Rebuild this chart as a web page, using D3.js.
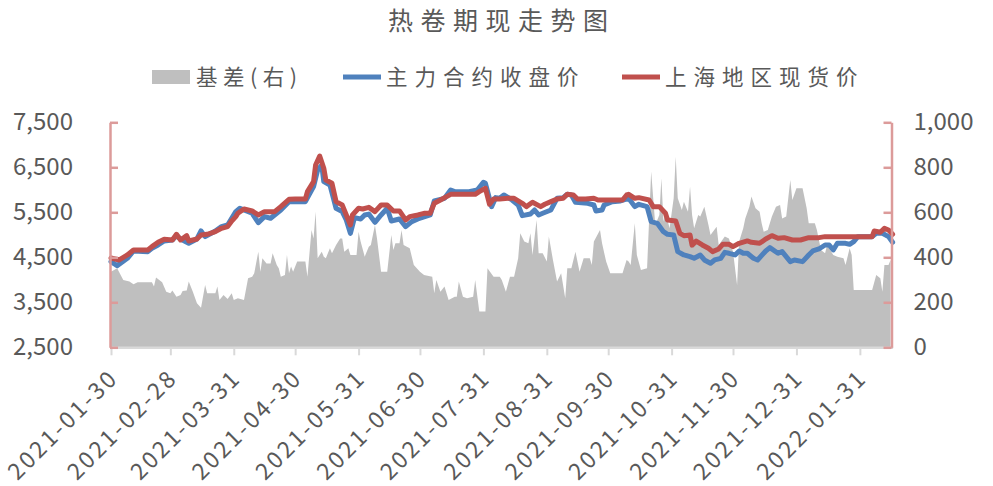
<!DOCTYPE html>
<html><head><meta charset="utf-8">
<script src="https://cdn.jsdelivr.net/npm/d3@7"></script>
<style>body{margin:0;background:#fff} svg{display:block}</style>
</head><body><svg id="c" width="993" height="486"></svg>
<script>
const chartTitle = "热卷期现走势图";
const seriesNames = ["基差(右)", "主力合约收盘价", "上海地区现货价"];
const leftTicks = [2500, 3500, 4500, 5500, 6500, 7500];
const rightTicks = [0, 200, 400, 600, 800, 1000];
const xTickDates = ["2021-01-30","2021-02-28","2021-03-31","2021-04-30","2021-05-31","2021-06-30","2021-07-31","2021-08-31","2021-09-30","2021-10-31","2021-11-30","2021-12-31","2022-01-31"];
const xDomain = ["2021-01-30", "2022-02-16"];

const spotDates = ["2021-01-30","2021-02-03","2021-02-07","2021-02-10","2021-02-17","2021-02-19","2021-02-22","2021-02-25","2021-03-01","2021-03-03",
"2021-03-05","2021-03-08","2021-03-09","2021-03-13","2021-03-15","2021-03-18","2021-03-22","2021-03-25","2021-03-28","2021-03-30",
"2021-04-01","2021-04-02","2021-04-05","2021-04-09","2021-04-12","2021-04-15","2021-04-20","2021-04-23","2021-04-27","2021-04-30",
"2021-05-05","2021-05-06","2021-05-09","2021-05-10","2021-05-12","2021-05-14","2021-05-15","2021-05-18","2021-05-20","2021-05-23",
"2021-05-24","2021-05-27","2021-05-28","2021-05-31","2021-06-02","2021-06-05","2021-06-08","2021-06-11","2021-06-14","2021-06-17",
"2021-06-20","2021-06-23","2021-06-25","2021-06-29","2021-07-02","2021-07-05","2021-07-07","2021-07-10","2021-07-13","2021-07-15",
"2021-07-20","2021-07-27","2021-07-29","2021-08-01","2021-08-03","2021-08-05","2021-08-08","2021-08-12","2021-08-15","2021-08-19",
"2021-08-21","2021-08-24","2021-08-28","2021-08-30","2021-09-02","2021-09-05","2021-09-08","2021-09-10","2021-09-13","2021-09-15",
"2021-09-19","2021-09-23","2021-09-25","2021-09-30","2021-10-07","2021-10-09","2021-10-10","2021-10-13","2021-10-15","2021-10-20",
"2021-10-22","2021-10-25","2021-10-28","2021-10-29","2021-11-02","2021-11-04","2021-11-06","2021-11-09","2021-11-10","2021-11-12",
"2021-11-15","2021-11-18","2021-11-20","2021-11-23","2021-11-25","2021-11-28","2021-11-30","2021-12-03","2021-12-07","2021-12-09",
"2021-12-13","2021-12-16","2021-12-19","2021-12-22","2021-12-25","2021-12-29","2022-01-02","2022-01-06","2022-01-11","2022-01-14",
"2022-01-19","2022-01-30","2022-02-06","2022-02-07","2022-02-10","2022-02-12","2022-02-14","2022-02-16"];
const spotValues = [4484,4441,4552,4663,4663,4737,4833,4900,4885,5011,
4885,4981,4863,4907,4996,5011,5070,5144,5181,5307,
5404,5478,5574,5530,5441,5515,5515,5626,5789,5796,
5796,5959,6181,6552,6750,6478,6218,6144,5737,5663,
5552,5218,5441,5589,5574,5610,5515,5663,5663,5530,
5530,5330,5404,5441,5478,5478,5700,5774,5848,5900,
5900,5900,5959,6033,5678,5796,5796,5811,5811,5700,
5626,5722,5626,5678,5737,5796,5811,5900,5885,5796,
5796,5811,5774,5774,5774,5885,5900,5811,5826,5774,
5626,5626,5478,5330,5307,5033,4981,4996,4770,4860,
4774,4700,4626,4685,4789,4789,4737,4811,4863,4833,
4811,4907,4981,4922,4937,4885,4885,4937,4937,4959,
4959,4959,4959,5085,5056,5144,5107,5011];

const futuresDates = ["2021-01-30","2021-02-02","2021-02-07","2021-02-10","2021-02-17","2021-02-19","2021-02-22","2021-02-25","2021-03-01","2021-03-03",
"2021-03-05","2021-03-09","2021-03-13","2021-03-15","2021-03-17","2021-03-22","2021-03-25","2021-03-28","2021-03-30","2021-04-01",
"2021-04-03","2021-04-05","2021-04-09","2021-04-12","2021-04-15","2021-04-18","2021-04-23","2021-04-27","2021-05-05","2021-05-09",
"2021-05-11","2021-05-13","2021-05-14","2021-05-17","2021-05-20","2021-05-23","2021-05-25","2021-05-27","2021-05-29","2021-06-01",
"2021-06-03","2021-06-05","2021-06-08","2021-06-11","2021-06-14","2021-06-16","2021-06-20","2021-06-23","2021-06-26","2021-06-29",
"2021-07-05","2021-07-07","2021-07-12","2021-07-15","2021-07-17","2021-07-24","2021-07-28","2021-07-31","2021-08-01","2021-08-04",
"2021-08-06","2021-08-08","2021-08-10","2021-08-14","2021-08-17","2021-08-19","2021-08-23","2021-08-25","2021-08-27","2021-08-29",
"2021-09-02","2021-09-05","2021-09-08","2021-09-10","2021-09-12","2021-09-14","2021-09-20","2021-09-23","2021-09-24","2021-09-27",
"2021-09-28","2021-10-02","2021-10-06","2021-10-10","2021-10-13","2021-10-15","2021-10-19","2021-10-21","2021-10-24","2021-10-27",
"2021-10-29","2021-11-01","2021-11-03","2021-11-06","2021-11-09","2021-11-11","2021-11-14","2021-11-16","2021-11-19","2021-11-21",
"2021-11-24","2021-11-26","2021-11-28","2021-12-01","2021-12-03","2021-12-05","2021-12-07","2021-12-10","2021-12-12","2021-12-16",
"2021-12-18","2021-12-22","2021-12-24","2021-12-28","2021-12-30","2022-01-03","2022-01-06","2022-01-08","2022-01-11","2022-01-14",
"2022-01-16","2022-01-18","2022-01-20","2022-01-24","2022-01-26","2022-01-28","2022-01-30","2022-02-06","2022-02-08","2022-02-11",
"2022-02-14","2022-02-16"];
const futuresValues = [4404,4315,4478,4641,4626,4700,4774,4863,4885,4981,
4907,4811,4907,5085,4959,5085,5181,5218,5367,5515,
5590,5552,5478,5270,5404,5367,5552,5737,5737,6070,
6441,6552,6181,6107,5589,5515,5330,5033,5381,5352,
5441,5460,5278,5441,5589,5307,5352,5181,5293,5352,
5441,5752,5811,5996,5959,5959,5996,6167,6144,5626,
5826,5811,5885,5774,5663,5426,5463,5552,5441,5478,
5552,5811,5826,5900,5885,5722,5700,5663,5530,5552,
5663,5737,5752,5811,5626,5678,5626,5293,5255,5070,
5011,4996,4626,4552,4515,4478,4552,4441,4367,4441,
4478,4611,4589,4552,4641,4589,4589,4478,4440,4641,
4715,4589,4626,4404,4441,4404,4552,4641,4685,4774,
4774,4663,4811,4811,4789,4848,4959,4959,5033,5033,
4959,4833];

const basisDates = ["2021-01-30","2021-02-02","2021-02-05","2021-02-08","2021-02-10","2021-02-12","2021-02-19","2021-02-20","2021-02-21","2021-02-24",
"2021-02-26","2021-02-28","2021-03-01","2021-03-03","2021-03-05","2021-03-06","2021-03-08","2021-03-09","2021-03-11","2021-03-13",
"2021-03-15","2021-03-17","2021-03-18","2021-03-22","2021-03-23","2021-03-24","2021-03-26","2021-03-28","2021-03-30","2021-03-31",
"2021-04-02","2021-04-05","2021-04-07","2021-04-09","2021-04-10","2021-04-12","2021-04-13","2021-04-14","2021-04-16","2021-04-18",
"2021-04-19","2021-04-21","2021-04-22","2021-04-23","2021-04-25","2021-04-26","2021-04-27","2021-04-28","2021-04-29","2021-05-01",
"2021-05-05","2021-05-06","2021-05-08","2021-05-09","2021-05-10","2021-05-11","2021-05-13","2021-05-14","2021-05-15","2021-05-17",
"2021-05-18","2021-05-20","2021-05-22","2021-05-23","2021-05-24","2021-05-26","2021-05-27","2021-05-30","2021-05-31","2021-06-01",
"2021-06-03","2021-06-05","2021-06-06","2021-06-08","2021-06-09","2021-06-11","2021-06-14","2021-06-16","2021-06-17","2021-06-18",
"2021-06-20","2021-06-21","2021-06-22","2021-06-25","2021-06-27","2021-06-30","2021-07-02","2021-07-06","2021-07-07","2021-07-08",
"2021-07-10","2021-07-12","2021-07-14","2021-07-17","2021-07-18","2021-07-19","2021-07-21","2021-07-23","2021-07-26","2021-07-27",
"2021-07-29","2021-08-01","2021-08-02","2021-08-05","2021-08-08","2021-08-09","2021-08-11","2021-08-13","2021-08-15","2021-08-17",
"2021-08-18","2021-08-20","2021-08-22","2021-08-23","2021-08-24","2021-08-26","2021-08-27","2021-08-29","2021-08-31","2021-09-01",
"2021-09-03","2021-09-05","2021-09-07","2021-09-09","2021-09-10","2021-09-12","2021-09-14","2021-09-16","2021-09-18","2021-09-21",
"2021-09-22","2021-09-23","2021-09-26","2021-09-27","2021-09-29","2021-10-01","2021-10-07","2021-10-09","2021-10-10","2021-10-11",
"2021-10-13","2021-10-14","2021-10-16","2021-10-19","2021-10-21","2021-10-23","2021-10-25","2021-10-26","2021-10-27","2021-10-28",
"2021-10-30","2021-11-01","2021-11-02","2021-11-03","2021-11-05","2021-11-06","2021-11-08","2021-11-09","2021-11-10","2021-11-11",
"2021-11-13","2021-11-14","2021-11-16","2021-11-18","2021-11-19","2021-11-22","2021-11-23","2021-11-26","2021-11-28","2021-11-30",
"2021-12-02","2021-12-03","2021-12-05","2021-12-06","2021-12-08","2021-12-09","2021-12-11","2021-12-13","2021-12-14","2021-12-15",
"2021-12-17","2021-12-19","2021-12-21","2021-12-23","2021-12-24","2021-12-26","2021-12-28","2021-12-29","2021-12-31","2022-01-03",
"2022-01-05","2022-01-06","2022-01-09","2022-01-10","2022-01-12","2022-01-14","2022-01-15","2022-01-18","2022-01-20","2022-01-23",
"2022-01-24","2022-01-26","2022-01-27","2022-01-28","2022-02-06","2022-02-08","2022-02-10","2022-02-11","2022-02-12","2022-02-14",
"2022-02-15"];
const basisValues = [336,351,299,292,280,289,289,270,310,289,
247,240,252,225,233,250,252,292,247,196,
176,277,240,240,270,210,233,215,240,210,
218,210,307,314,329,425,336,396,373,373,
418,366,351,314,321,410,329,359,336,381,
381,314,521,484,603,396,425,403,396,440,
418,455,484,484,425,440,410,410,514,470,
403,447,455,544,484,336,336,499,433,462,
462,521,455,440,366,336,321,314,240,299,
247,270,210,225,225,292,225,218,225,299,
159,159,351,314,314,299,247,314,314,396,
507,470,462,507,410,566,418,418,381,492,
388,292,329,218,351,351,425,336,396,396,
366,470,521,462,381,329,329,388,381,366,
551,410,344,351,781,544,588,751,559,603,
529,662,847,662,610,647,603,714,588,529,
588,581,625,544,499,536,455,492,484,425,
277,470,529,573,625,670,618,603,551,514,
521,581,625,633,573,581,744,655,707,707,
618,551,551,521,433,418,455,410,403,396,
366,440,410,255,255,321,307,247,366,366,
388];

const parse = d3.timeParse("%Y-%m-%d");
const svg = d3.select("#c");
const FONT = "'Noto Sans CJK SC','Noto Sans',sans-serif";
const TXT = "#595959";
const GRAY = "#bfbfbf", BLUE = "#4f81bd", RED = "#c0504d", AXISPINK = "#dc9b9a", AXISGRAY = "#d9d9d9";

const x = d3.scaleTime().domain(xDomain.map(parse)).range([111, 892.6]);
const yL = d3.scaleLinear().domain([2500, 7500]).range([347.3, 122.3]);
const yR = d3.scaleLinear().domain([0, 1000]).range([347.3, 122.3]);

// basis area
const basis = basisDates.map((d, i) => ({ d: parse(d), v: basisValues[i] }));
svg.append("path").datum(basis)
  .attr("fill", GRAY)
  .attr("d", d3.area().x(p => x(p.d)).y0(yR(0)).y1(p => yR(p.v)));

// bottom axis
const gx = svg.append("g").attr("transform", `translate(0,${yR(0)})`)
  .call(d3.axisBottom(x).tickValues(xTickDates.map(parse)).tickSize(8).tickSizeOuter(0)
    .tickFormat(d3.timeFormat("%Y-%m-%d")));
gx.select(".domain").attr("stroke", AXISGRAY).attr("stroke-width", 2.5);
gx.selectAll(".tick line").attr("stroke", AXISGRAY).attr("stroke-width", 2);
gx.selectAll(".tick text")
  .attr("font-family", FONT).attr("font-size", 23).attr("fill", TXT)
  .attr("letter-spacing", 2.6)
  .attr("text-anchor", "end").attr("dy", 0).attr("y", 0)
  .attr("transform", "translate(8,32) rotate(-45)");

// lines
const fut = futuresDates.map((d, i) => ({ d: parse(d), v: futuresValues[i] }));
const spot = spotDates.map((d, i) => ({ d: parse(d), v: spotValues[i] }));
const line = d3.line().x(p => x(p.d)).y(p => yL(p.v));
svg.append("path").datum(fut).attr("fill", "none").attr("stroke", BLUE)
  .attr("stroke-width", 5).attr("stroke-linejoin", "round").attr("stroke-linecap", "round").attr("d", line);
svg.append("path").datum(spot).attr("fill", "none").attr("stroke", RED)
  .attr("stroke-width", 5).attr("stroke-linejoin", "round").attr("stroke-linecap", "round").attr("d", line);

// left axis
const gl = svg.append("g").attr("transform", "translate(110,0)")
  .call(d3.axisLeft(yL).tickValues(leftTicks).tickSize(-8).tickSizeOuter(0).tickPadding(37).tickFormat(d3.format(",")));
gl.select(".domain").attr("stroke", AXISPINK).attr("stroke-width", 2.5);
gl.selectAll(".tick line").attr("stroke", AXISPINK).attr("stroke-width", 2.5);
gl.selectAll(".tick text").attr("font-family", FONT).attr("font-size", 24).attr("fill", TXT);

// right axis
const gr = svg.append("g").attr("transform", "translate(891.5,0)")
  .call(d3.axisRight(yR).tickValues(rightTicks).tickSize(-8).tickSizeOuter(0).tickPadding(22).tickFormat(d3.format(",")));
gr.select(".domain").attr("stroke", AXISPINK).attr("stroke-width", 2.5);
gr.selectAll(".tick line").attr("stroke", AXISPINK).attr("stroke-width", 2.5);
gr.selectAll(".tick text").attr("font-family", FONT).attr("font-size", 24).attr("fill", TXT);

// title
svg.append("text").attr("x", 388).attr("y", 30).text(chartTitle)
  .attr("font-family", FONT).attr("font-size", 25).attr("letter-spacing", 7.5).attr("fill", TXT);

// legend
const lg = svg.append("g").attr("font-family", FONT).attr("font-size", 21.5).attr("fill", TXT).attr("letter-spacing", 7);
lg.append("rect").attr("x", 152).attr("y", 70).attr("width", 38).attr("height", 14).attr("fill", GRAY);
lg.append("text").attr("x", 196).attr("y", 85).attr("letter-spacing", 5.5).text(seriesNames[0]);
lg.append("line").attr("x1", 343).attr("x2", 381).attr("y1", 77).attr("y2", 77).attr("stroke", BLUE).attr("stroke-width", 5);
lg.append("text").attr("x", 386).attr("y", 85).text(seriesNames[1]);
lg.append("line").attr("x1", 622).attr("x2", 660).attr("y1", 77).attr("y2", 77).attr("stroke", RED).attr("stroke-width", 5);
lg.append("text").attr("x", 665).attr("y", 85).text(seriesNames[2]);
</script></body></html>
